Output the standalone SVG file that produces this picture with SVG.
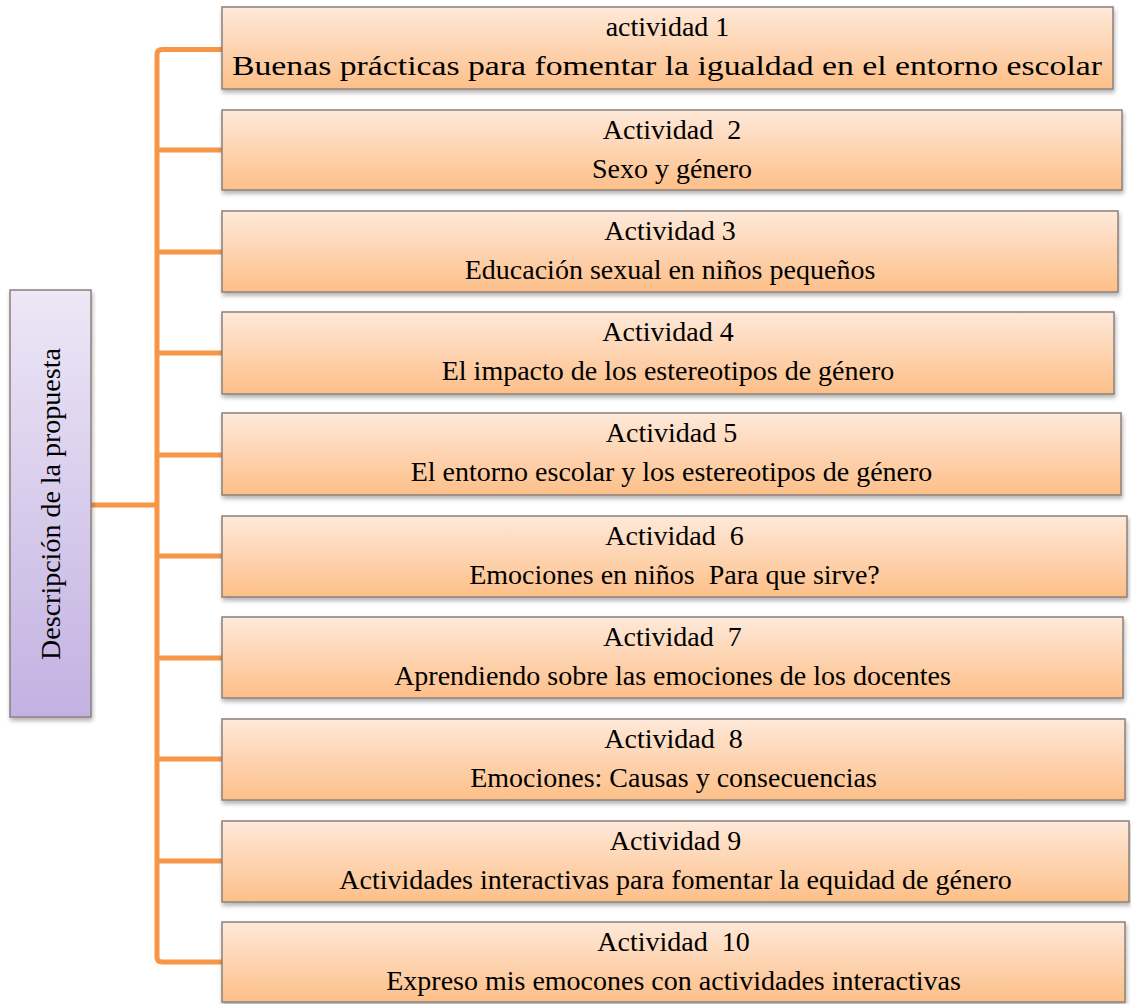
<svg xmlns="http://www.w3.org/2000/svg" width="1131" height="1004" viewBox="0 0 1131 1004">
<style>
.box{stroke:#8c8079;stroke-width:1.5;fill:url(#gO);filter:url(#sh)}
.root{stroke:#8c8079;stroke-width:1.5;fill:url(#gP);filter:url(#sh)}
text{font-family:"Liberation Serif","Times New Roman",serif;font-size:28px;fill:#000;text-anchor:middle;white-space:pre}
.con{stroke:#f79646;stroke-width:5;fill:none;stroke-linejoin:round}
</style>
<defs>
<linearGradient id="gO" x1="0" y1="0" x2="0" y2="1">
<stop offset="0" stop-color="#fee9da"/>
<stop offset="1" stop-color="#fdbf88"/>
</linearGradient>
<linearGradient id="gP" x1="0" y1="0" x2="0" y2="1">
<stop offset="0" stop-color="#ede7f6"/>
<stop offset="1" stop-color="#c3b1e2"/>
</linearGradient>
<filter id="sh" x="-5%" y="-5%" width="110%" height="120%">
<feDropShadow dx="1" dy="3" stdDeviation="2" flood-color="#000" flood-opacity="0.3"/>
</filter>
</defs>
<g id="connectors">
<path class="con" d="M91 505 H157"/>
<path class="con" d="M222 49.5 H162 Q157 49.5 157 54.5 V957 Q157 962 162 962 H222"/>
<path class="con" d="M157 150 H222 M157 252 H222 M157 353 H222 M157 455 H222 M157 556 H222 M157 658 H222 M157 759 H222 M157 861 H222"/>
</g>
<g id="root">
<rect class="root" x="10" y="290" width="81" height="427"/>
<text transform="translate(60 504) rotate(-90)">Descripción de la propuesta</text>
</g>
<g id="a1">
<rect class="box" x="222" y="7" width="891" height="82"/>
<text x="667.5" y="36">actividad 1</text>
<text x="667" y="75" textLength="870" lengthAdjust="spacingAndGlyphs">Buenas prácticas para fomentar la igualdad en el entorno escolar</text>
</g>
<g id="a2">
<rect class="box" x="222" y="110" width="900" height="80"/>
<text x="672" y="139">Actividad  2</text>
<text x="672" y="178">Sexo y género</text>
</g>
<g id="a3">
<rect class="box" x="222" y="211" width="896" height="81"/>
<text x="670" y="240">Actividad 3</text>
<text x="670" y="279">Educación sexual en niños pequeños</text>
</g>
<g id="a4">
<rect class="box" x="222" y="312" width="892" height="82"/>
<text x="668" y="341">Actividad 4</text>
<text x="668" y="380">El impacto de los estereotipos de género</text>
</g>
<g id="a5">
<rect class="box" x="222" y="413" width="899" height="82"/>
<text x="671.5" y="442">Actividad 5</text>
<text x="671.5" y="481">El entorno escolar y los estereotipos de género</text>
</g>
<g id="a6">
<rect class="box" x="222" y="516" width="905" height="81"/>
<text x="674.5" y="545">Actividad  6</text>
<text x="674.5" y="584">Emociones en niños  Para que sirve?</text>
</g>
<g id="a7">
<rect class="box" x="222" y="617" width="901" height="81"/>
<text x="672.5" y="646">Actividad  7</text>
<text x="672.5" y="685">Aprendiendo sobre las emociones de los docentes</text>
</g>
<g id="a8">
<rect class="box" x="222" y="719" width="903" height="81"/>
<text x="673.5" y="748">Actividad  8</text>
<text x="673.5" y="787">Emociones: Causas y consecuencias</text>
</g>
<g id="a9">
<rect class="box" x="222" y="821" width="907" height="81"/>
<text x="675.5" y="850">Actividad 9</text>
<text x="675.5" y="889">Actividades interactivas para fomentar la equidad de género</text>
</g>
<g id="a10">
<rect class="box" x="222" y="922" width="903" height="80"/>
<text x="673.5" y="951">Actividad  10</text>
<text x="673.5" y="990">Expreso mis emocones con actividades interactivas</text>
</g>
</svg>
